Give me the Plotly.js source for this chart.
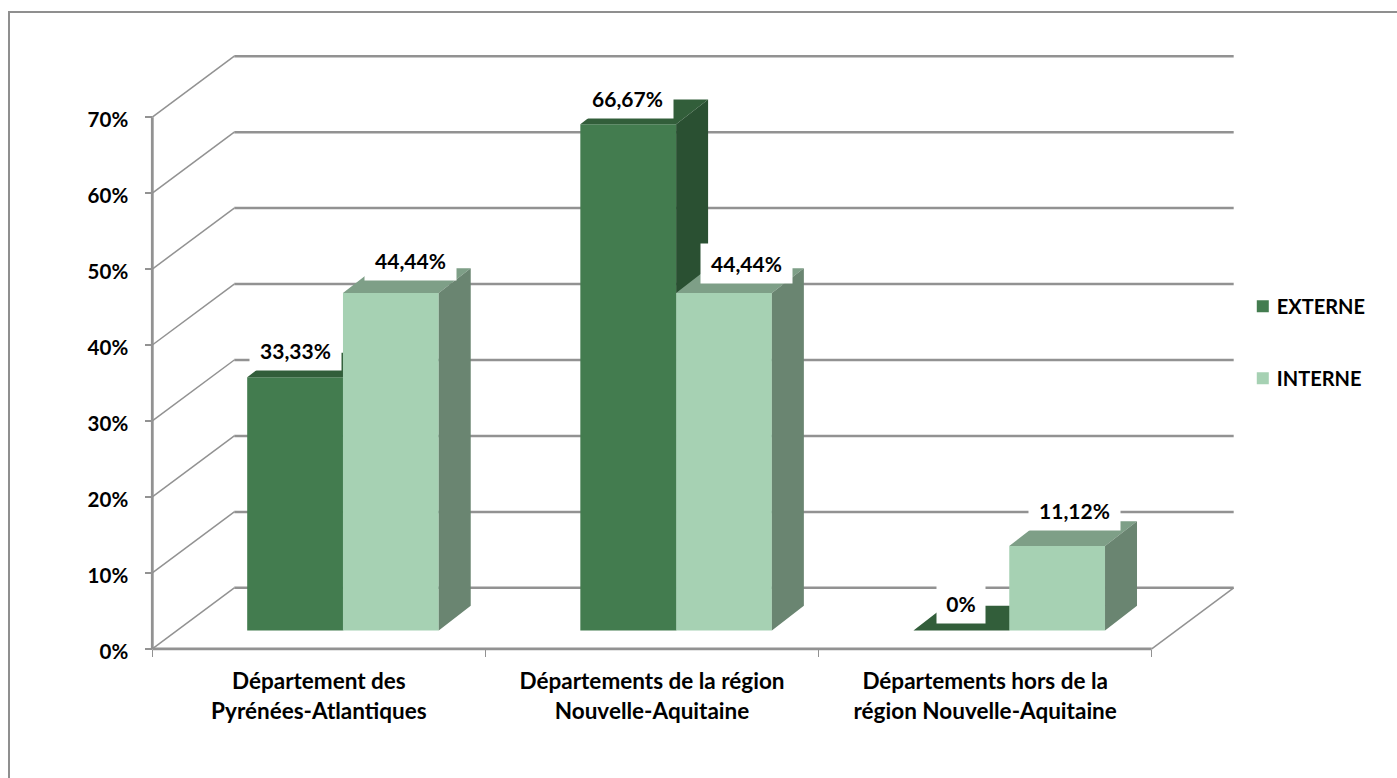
<!DOCTYPE html>
<html><head><meta charset="utf-8">
<script src="https://cdn.plot.ly/plotly-3.0.1.min.js"></script>
<style>
html,body{margin:0;padding:0;background:#fff;overflow:hidden}
#frame{position:absolute;left:8px;top:11px;width:1400px;height:780px;border-left:2px solid #8f8f8f;border-top:2px solid #8f8f8f}
#chart{position:absolute;left:0;top:0;width:1397px;height:778px}
.legendtext{transform:translateX(-6px)}
path.legendbar{transform:translate(20px,0) scale(1.17)}
</style></head><body>
<div id="frame"></div><div id="chart"></div>
<script>
const categories = ["Département des<br>Pyrénées-Atlantiques","Départements de la région<br>Nouvelle-Aquitaine","Départements hors de la<br>région Nouvelle-Aquitaine"];
const externeValues = [33.33, 66.67, 0];
const interneValues = [44.44, 44.44, 11.12];
const externeLabels = ["33,33%","66,67%","0%"];
const interneLabels = ["44,44%","44,44%","11,12%"];
const yTickValues = [0,10,20,30,40,50,60,70];
const yTickLabels = ["0%","10%","20%","30%","40%","50%","60%","70%"];

// 3D projection, in axis units
const FONT = 'Lato, Carlito, sans-serif';
const wallDx = 0.246, wallDy = 8.03;       // front of floor -> back wall
const barOffX = 0.0723, barOffY = 2.41;    // front of floor -> front of bars
const barW = 0.2875, depthX = 0.096, depthY = 3.25;
const xMin = -0.5, xMax = 2.5;
const pxPerCat = 333.3, pxPerUnit = 7.596; // scale of the two axes
const padX = 0.1, padY = 2;                // room so that edge lines are not clipped

const gridColor = '#929292';
const C = {ext:{front:'#437c4f',top:'#325e3a',side:'#2a5032'}, int:{front:'#a6d1b3',top:'#7e9f87',side:'#6a8571'}};

function faces(values, xOffset){
  const t={x:[],y:[]}, s={x:[],y:[]};
  values.forEach((v,i)=>{
    const l=i+barOffX+xOffset, r=l+barW, y=barOffY+v;
    t.x.push(l,r,r+depthX,l+depthX,l,null); t.y.push(y,y,y+depthY,y+depthY,y,null);
    s.x.push(r,r+depthX,r+depthX,r,r,null); s.y.push(barOffY,barOffY+depthY,y+depthY,y,barOffY,null);
  });
  return {t,s};
}
function poly(p,color,xa,ya){
  return {type:'scatter',mode:'lines',x:p.x,y:p.y,fill:'toself',fillcolor:color,line:{width:0},
    xaxis:xa,yaxis:ya,showlegend:false,hoverinfo:'skip'};
}
function line(x,y,w,color){
  return {type:'scatter',mode:'lines',x,y,line:{width:w,color:color||gridColor},
    connectgaps:false,showlegend:false,hoverinfo:'skip',xaxis:'x',yaxis:'y'};
}
function bars(name,values,xOffset,color,xa,ya){
  return {type:'bar',name,x:categories.map((_,i)=>i+barOffX+xOffset+barW/2),y:values,
    base:values.map(()=>barOffY),width:barW,marker:{color},xaxis:xa,yaxis:ya,legendgroup:name,hoverinfo:'skip'};
}

// walls
const backX=[],backY=[],diagX=[],diagY=[];
yTickValues.forEach(v=>{
  backX.push(xMin+wallDx,xMax+wallDx,null); backY.push(v+wallDy,v+wallDy,null);
  diagX.push(xMin,xMin+wallDx,null); diagY.push(v,v+wallDy,null);
});
diagX.push(xMax,xMax+wallDx,null); diagY.push(0,wallDy,null);

const fe=faces(externeValues,-barW), fi=faces(interneValues,0);
const traces=[
  line(backX,backY,2.5),
  line(diagX,diagY,1.5),
  line([xMin,xMin],[0,70],2.8),
  line([xMin,xMax],[0,0],2.8),
  bars('EXTERNE',externeValues,-barW,C.ext.front,'x2','y2'),
  poly(fe.t,C.ext.top,'x2','y2'),
  poly(fe.s,C.ext.side,'x2','y2'),
  bars('INTERNE',interneValues,0,C.int.front,'x3','y3'),
  poly(fi.t,C.int.top,'x3','y3'),
  poly(fi.s,C.int.side,'x3','y3')
];

const labelShiftExt=[{x:0,y:26.5,w:89},{x:-1,y:26,w:89},{x:0,y:27,w:46}];
const labelShiftInt=[{x:20,y:32.5,w:89},{x:22,y:29,w:89},{x:17,y:36,w:89}];
function labels(values,texts,xOffset,sh){
  return values.map((v,i)=>({xref:'x',yref:'y',x:i+barOffX+xOffset+barW/2,y:barOffY+v,text:texts[i],showarrow:false,
    bgcolor:'#fff',width:sh[i].w,height:37,xshift:sh[i].x,yshift:sh[i].y,align:'center',valign:'middle',
    font:{family:FONT,size:21,color:'#000',weight:700}}));
}

const xRange=[xMin-padX,xMax+wallDx+padX], yRange=[-padY,78.03+padY];
const spanX=xRange[1]-xRange[0], spanY=yRange[1]-yRange[0];
const plotW=spanX*pxPerCat, plotH=spanY*pxPerUnit;
const mL=152-padX*pxPerCat, mT=649-yRange[1]*pxPerUnit;
const xAtBottom=padY/spanY, yAtLeft=padX/spanX;
const layout={
  width:1397,height:778,margin:{l:mL,r:1397-mL-plotW,t:mT,b:778-mT-plotH,pad:0},
  paper_bgcolor:'rgba(0,0,0,0)',plot_bgcolor:'rgba(0,0,0,0)',barmode:'overlay',
  font:{family:FONT,size:20,color:'#000',weight:700},
  xaxis:{range:xRange,anchor:'free',position:xAtBottom,tickmode:'array',tickvals:[-0.5,0.5,1.5,2.5],ticktext:['','','',''],ticks:'outside',ticklen:7,tickwidth:1.5,tickcolor:gridColor,showgrid:false,zeroline:false,showline:false,fixedrange:true},
  yaxis:{range:yRange,anchor:'free',position:yAtLeft,tickmode:'array',tickvals:yTickValues,ticktext:yTickLabels,ticks:'outside',ticklen:7,tickwidth:1.5,tickcolor:gridColor,showgrid:false,zeroline:false,showline:false,fixedrange:true,ticklabelstandoff:13,ticklabelshift:3,tickfont:{family:FONT,size:20.5,color:'#000',weight:700}},
  xaxis2:{range:xRange,overlaying:'x',anchor:'free',position:xAtBottom,tickmode:'array',tickvals:[0,1,2],ticktext:categories,ticks:'',showgrid:false,zeroline:false,showline:false,fixedrange:true,ticklabelstandoff:17,tickangle:0,tickfont:{family:FONT,size:22.5,color:'#000',weight:700}},
  yaxis2:{range:yRange,overlaying:'y',anchor:'x2',visible:false,fixedrange:true},
  xaxis3:{range:xRange,overlaying:'x',anchor:'y3',visible:false,fixedrange:true},
  yaxis3:{range:yRange,overlaying:'y',anchor:'x3',visible:false,fixedrange:true},
  legend:{x:(1243-mL)/plotW,xanchor:'left',y:1-(287-mT)/plotH,yanchor:'top',tracegroupgap:43,traceorder:'grouped',font:{family:FONT,size:20,color:'#000',weight:700},bgcolor:'rgba(0,0,0,0)'},
  annotations:[...labels(externeValues,externeLabels,-barW,labelShiftExt),...labels(interneValues,interneLabels,0,labelShiftInt)]
};
Plotly.newPlot('chart',traces,layout,{displayModeBar:false,staticPlot:true});
</script></body></html>
